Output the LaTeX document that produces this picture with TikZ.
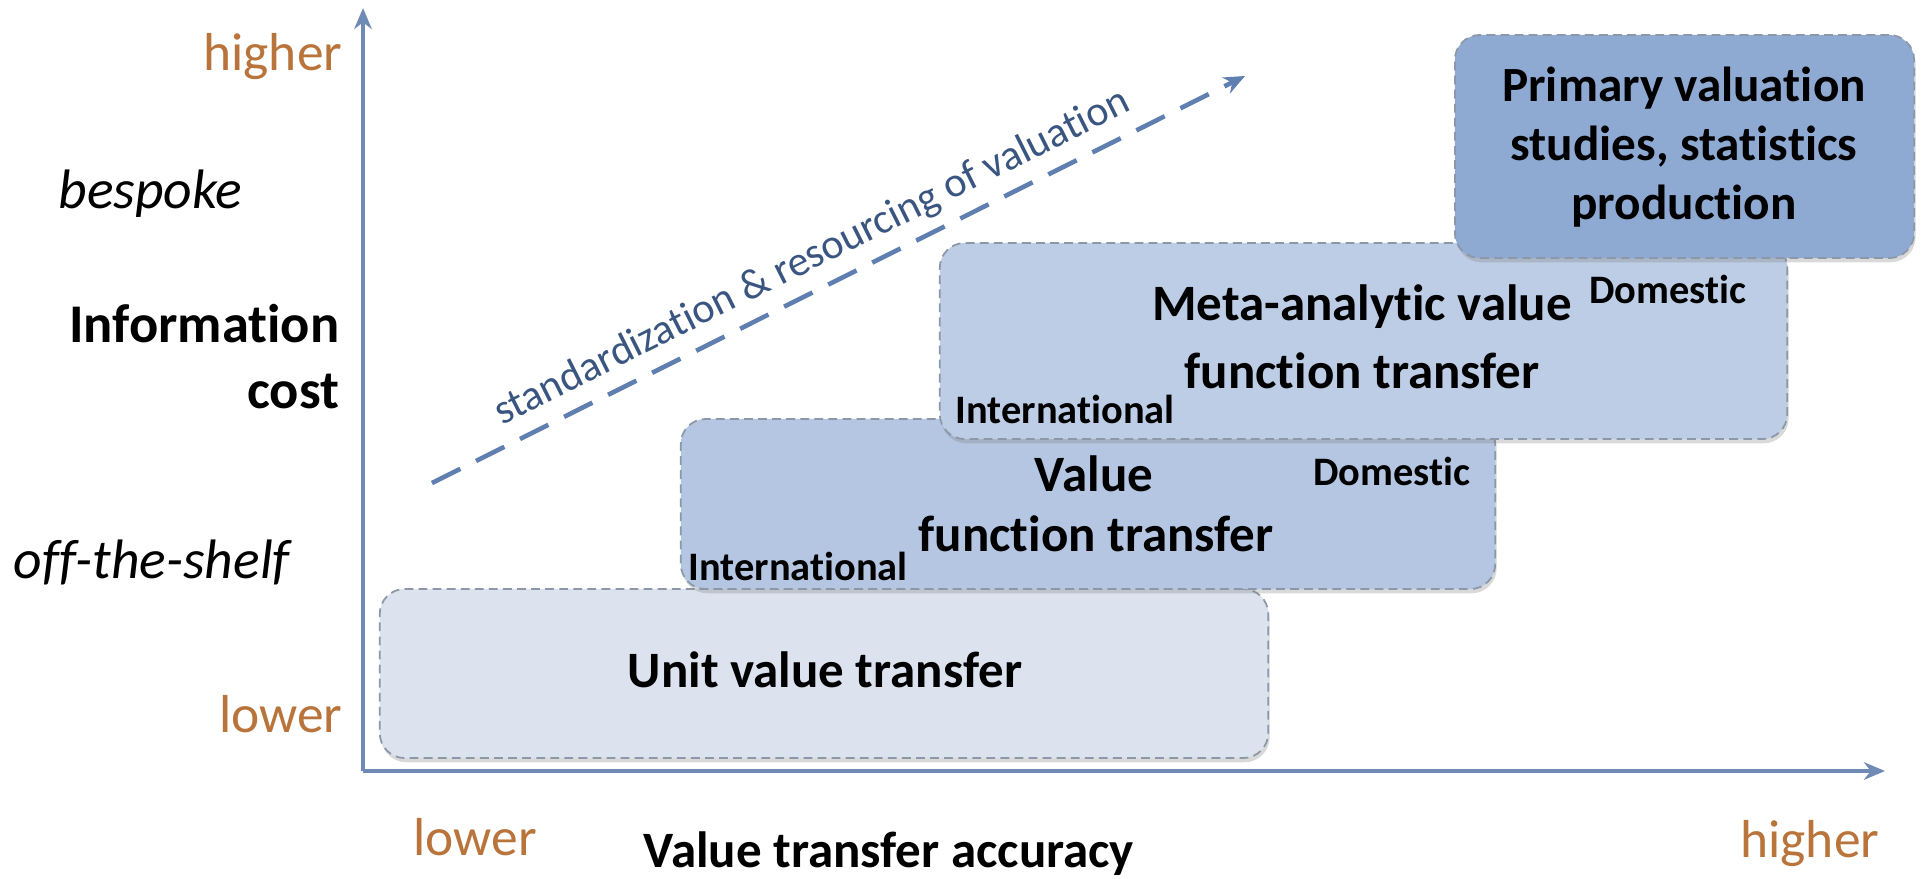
\documentclass[tikz,border=0pt]{standalone}
\usepackage{fontspec}
\setmainfont{Carlito}[Ligatures=NoCommon]
\usetikzlibrary{arrows.meta,shadows}

\definecolor{axisblue}{HTML}{6F8AB5}
\definecolor{tickorange}{HTML}{B8743A}
\definecolor{edgegray}{HTML}{8C97A8}
\definecolor{unitfill}{HTML}{DCE3EF}
\definecolor{vffill}{HTML}{B4C6E1}
\definecolor{metafill}{HTML}{BDCDE5}
\definecolor{primfill}{HTML}{8EAAD3}
\definecolor{trendblue}{HTML}{5E7FAF}
\definecolor{trendtext}{HTML}{3A5580}

\tikzset{
  axis/.style={draw=axisblue, line width=1.2pt, -{Stealth[length=6pt,width=5pt]}},
  tier/.style={draw=edgegray, line width=0.5pt, dash pattern=on 2.5pt off 1.5pt,
    rounded corners=0.25cm, inner sep=0pt,
    drop shadow={shadow xshift=0.4pt, shadow yshift=-1.2pt, opacity=0.3}},
  bigtext/.style={font=\fontsize{14.5}{17}\selectfont\bfseries, inner sep=0pt, align=center},
  axistitle/.style={font=\fontsize{15.5}{18}\selectfont\bfseries, inner sep=0pt},
  smalltext/.style={font=\fontsize{11.5}{13}\selectfont\bfseries, inner sep=0pt},
  ticklabel/.style={font=\fontsize{15.2}{17}\selectfont, text=tickorange, inner sep=0pt},
  sidelabel/.style={font=\fontsize{15.8}{18}\selectfont\itshape, inner sep=0pt},
}

\begin{document}
\begin{tikzpicture}[x=0.01cm, y=-0.01cm]
\useasboundingbox (0,0) rectangle (1924,878);

% axes
\coordinate (origin) at (363,771);
\coordinate (ytip) at (363,8);
\coordinate (xtip) at (1885,771);
\draw[axis] (origin) -- (ytip);
\draw[axis] (origin) -- (xtip);

% y-axis labels
\node[ticklabel, anchor=base east] (yhigh) at (343,70) {higher};
\node[sidelabel, anchor=base west] (bespoke) at (58,208) {bespoke};
\node[axistitle, anchor=base east] (infocost1) at (340,342) {Information};
\node[axistitle, anchor=base east] (infocost2) at (340,408) {cost};
\node[sidelabel, anchor=base west] (offshelf) at (13,578) {off-the-shelf};
\node[ticklabel, anchor=base east] (ylow) at (343,732) {lower};

% x-axis labels
\node[ticklabel, anchor=base west] (xlow) at (413,855) {lower};
\node[bigtext, anchor=base] (accuracy) at (889,867) {Value transfer accuracy};
\node[ticklabel, anchor=base east] (xhigh) at (1880,857) {higher};

% trend arrow
\coordinate (trendstart) at (432,483);
\coordinate (trendend) at (1245,76);
\draw[trendblue, line width=1.3pt, dash pattern=on 9pt off 5pt,
      -{Stealth[length=6pt,width=5pt]}] (trendstart) -- (trendend)
  node[sloped, above, pos=0.485, inner sep=3pt, text=trendtext,
       font=\fontsize{12}{14}\selectfont] (trendlabel)
  {standardization \& resourcing of valuation};

% method tiers, lowest first so each upper tier sits on top
\node[tier, fill=unitfill, minimum width=8.88cm, minimum height=1.69cm] (unit) at (824,673.5) {};
\node[bigtext] (unittext) at (825,670) {Unit value transfer};

\node[tier, fill=vffill, minimum width=8.14cm, minimum height=1.70cm] (vf) at (1088,504) {};
\node[bigtext] (vftext1) at (1094,474) {Value};
\node[bigtext] (vftext2) at (1096,534) {function transfer};
\node[smalltext, anchor=base west] (vfintl) at (688,580) {International};
\node[smalltext] (vfdom) at (1392,471) {Domestic};

\node[tier, fill=metafill, minimum width=8.47cm, minimum height=1.96cm] (meta) at (1363.5,341) {};
\node[bigtext] (metatext1) at (1362,307) {Meta-analytic value};
\node[bigtext] (metatext2) at (1362,371) {function transfer};
\node[smalltext, anchor=base west] (metaintl) at (955,423) {International};
\node[smalltext] (metadom) at (1668,289) {Domestic};

\node[tier, fill=primfill, minimum width=4.59cm, minimum height=2.23cm] (primary) at (1684.5,146.5) {};
\node[bigtext, font=\fontsize{14}{16.8}\selectfont\bfseries] (primtext) at (1684,147)
  {Primary valuation\\studies, statistics\\production};

\end{tikzpicture}
\end{document}
